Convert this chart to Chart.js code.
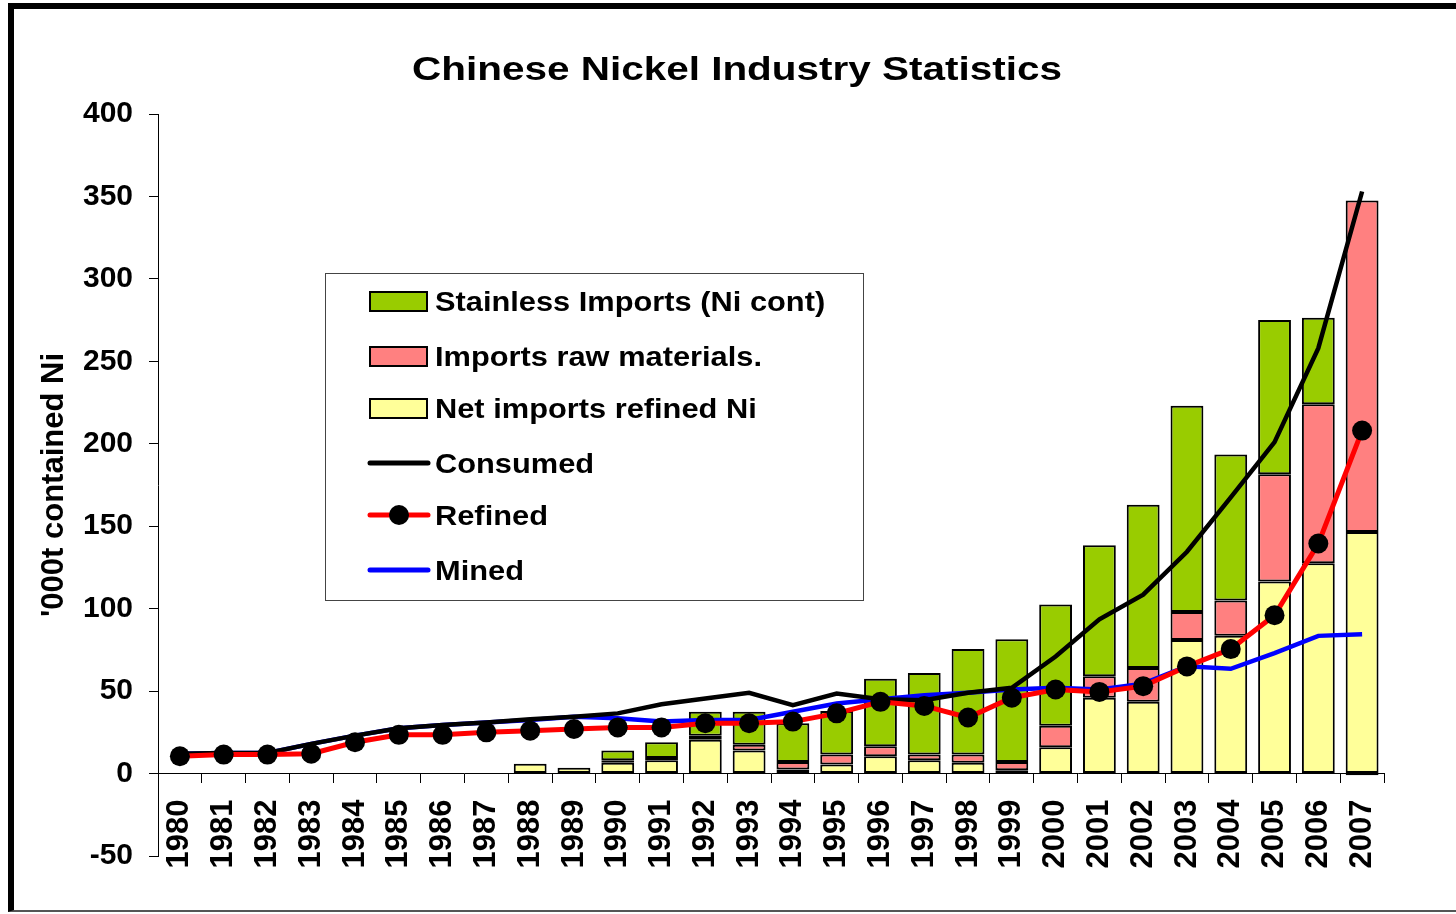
<!DOCTYPE html>
<html>
<head>
<meta charset="utf-8">
<title>Chinese Nickel Industry Statistics</title>
<script src="https://cdn.jsdelivr.net/npm/chart.js@4.4.1/dist/chart.umd.min.js"></script>
<style>
  html, body { margin: 0; padding: 0; background: #fff; overflow: hidden; }
  #wrap { position: relative; width: 1456px; height: 914px; }
  #frame {
    position: absolute; left: 8px; top: 3px; width: 1460px; height: 901px;
    border-left: 6px solid #000; border-top: 6px solid #000; border-bottom: 2px solid #555;
    pointer-events: none;
  }
</style>
</head>
<body>
<div id="wrap">
  <canvas id="nickelChart" width="1456" height="914"></canvas>
  <div id="frame"></div>
</div>
<script>
// --- DATA ---
const years = ['1980','1981','1982','1983','1984','1985','1986','1987','1988','1989',
               '1990','1991','1992','1993','1994','1995','1996','1997','1998','1999',
               '2000','2001','2002','2003','2004','2005','2006','2007'];

// barras apiladas (kt Ni contenido)
const netRefined = [null,null,null,null,null,null,null,null,6,3.5,
                    6.5,8,20.5,14,2.5,5.5,10.5,8,6.5,2,
                    16,46,43.5,81,83.5,116.5,127.5,146.5];
const rawMaterials = [null,null,null,null,null,null,null,null,null,null,
                      1.5,1.5,2.5,3.5,4.5,6,6,3.5,5,5,
                      13,13,20.5,17,21.5,65,96.5,201];
const stainless = [null,null,null,null,null,null,null,null,null,null,
                   6,9.5,14.5,20,23.5,26.5,41,49.5,64,74.5,
                   73.5,79.5,99,125,88.5,93.5,52.5,-1];

// lineas
const consumed = [12,12.5,12.5,18,23,27.5,29.5,31,33,34.5,
                  36.5,42,45.5,49,41.5,48.5,45,44.5,49,52,
                  71,93.5,108.5,134.5,167.5,201,258,353];
const refined = [10.5,11.5,11.5,12,19,23.5,23.5,25,26,27,
                 28,28,30.5,30.5,31.5,36.5,43.5,41,34,46,
                 51,49.5,53,65,75.5,96,139.5,208];
const mined = [12,12.5,12.5,18,23,27.5,29.5,31,32.5,34.5,
               33.5,31.5,32.5,32.5,37.5,42.5,45,47.5,49,51,
               52,51,54.5,65,63.5,73,83.5,84.5];

const yTicks = { min: -50, max: 400, step: 50 };

const chartTitle = 'Chinese Nickel Industry Statistics';
const FONT = '"Liberation Sans", Arial, sans-serif';

// orden de la leyenda (indices de datasets)
const legendOrder = [2, 1, 0, 3, 4, 5];

/**
 * Texto con estiramiento horizontal (el original viene algo ensanchado)
 */
function stretchedText(ctx, text, x, y, sx, align) {
    ctx.save();
    ctx.translate(x, y);
    ctx.scale(sx, 1);
    ctx.textAlign = align;
    ctx.fillText(text, 0, 0);
    ctx.restore();
}

/**
 * Titulo y leyenda dibujados a mano
 */
const boxLegend = {
    id: 'boxLegend',
    afterDraw(chart) {
        const ctx = chart.ctx;
        ctx.save();
        // titulo
        ctx.fillStyle = '#000';
        ctx.textBaseline = 'middle';
        ctx.font = 'bold 34px ' + FONT;
        stretchedText(ctx, chartTitle, 737, 71, 1.19, 'center');

        // leyenda
        const x0 = 325, y0 = 273, w = 538, h = 327;
        const rows = [301, 356, 408, 463, 515, 570];
        ctx.strokeStyle = '#444';
        ctx.lineWidth = 1;
        ctx.strokeRect(x0 + 0.5, y0 + 0.5, w, h);
        ctx.font = 'bold 28px ' + FONT;
        legendOrder.forEach((idx, i) => {
            const ds = chart.data.datasets[idx];
            const cy = rows[i];
            if (ds.type === 'bar') {
                ctx.fillStyle = ds.backgroundColor;
                ctx.fillRect(370, cy - 9, 57, 19);
                ctx.strokeStyle = '#000';
                ctx.lineWidth = 2;
                ctx.strokeRect(370, cy - 9, 57, 19);
            } else {
                ctx.strokeStyle = ds.borderColor;
                ctx.lineWidth = 5;
                ctx.lineCap = 'round';
                ctx.beginPath();
                ctx.moveTo(370, cy);
                ctx.lineTo(428, cy);
                ctx.stroke();
                if (ds.pointRadius > 0) {
                    ctx.fillStyle = ds.pointBackgroundColor;
                    ctx.beginPath();
                    ctx.arc(399, cy, 10, 0, Math.PI * 2);
                    ctx.fill();
                }
            }
            ctx.fillStyle = '#000';
            stretchedText(ctx, ds.label, 435, cy + 2, 1.1, 'left');
        });
        ctx.restore();
    }
};

function barSet(label, data, color) {
    return {
        type: 'bar', label: label, data: data,
        backgroundColor: color, borderColor: '#000', borderWidth: 2,
        borderSkipped: false, stack: 'imp', order: 10,
        barPercentage: 0.75, categoryPercentage: 1
    };
}

function lineSet(label, data, color, width, order) {
    return {
        type: 'line', label: label, data: data,
        borderColor: color, borderWidth: width, tension: 0,
        pointRadius: 0, fill: false, order: order,
        stack: 'line-' + label   // cada linea en su propia pila
    };
}

const refinedSet = lineSet('Refined', refined, '#FF0000', 5, 1);
refinedSet.pointRadius = 10;
refinedSet.pointBackgroundColor = '#000';
refinedSet.pointBorderColor = '#000';
refinedSet.pointBorderWidth = 0;

new Chart(document.getElementById('nickelChart'), {
    data: {
        labels: years,
        datasets: [
            barSet('Net imports refined Ni', netRefined, '#FFFF99'),
            barSet('Imports raw materials.', rawMaterials, '#FF8080'),
            barSet('Stainless Imports (Ni cont)', stainless, '#99CC00'),
            lineSet('Consumed', consumed, '#000000', 4.5, 2),
            refinedSet,
            lineSet('Mined', mined, '#0000FF', 4.5, 3)
        ]
    },
    options: {
        responsive: false,
        animation: false,
        layout: { padding: { top: 114, left: 0, right: 72, bottom: 58 } },
        plugins: {
            legend: { display: false },
            tooltip: { enabled: false },
            title: { display: false }
        },
        scales: {
            x: {
                type: 'category',
                position: { y: 0 },
                offset: true,
                stacked: true,
                grid: { offset: true, drawOnChartArea: false, drawTicks: true, tickLength: 9, color: '#000' },
                border: { display: true, color: '#000', width: 1 },
                ticks: {
                    autoSkip: false, minRotation: 90, maxRotation: 90, padding: 17,
                    color: '#000', font: { family: FONT, size: 31, weight: 'bold' }
                },
                afterFit: (scale) => { scale.height = 0; }
            },
            y: {
                stacked: true,
                min: yTicks.min, max: yTicks.max,
                ticks: {
                    stepSize: yTicks.step, padding: 16,
                    color: '#000', font: { family: FONT, size: 30, weight: 'bold' }
                },
                grid: { drawOnChartArea: false, drawTicks: true, tickLength: 9, color: '#000' },
                border: { display: true, color: '#000', width: 1 },
                title: {
                    display: true, text: "'000t contained Ni", color: '#000',
                    font: { family: FONT, size: 31, weight: 'bold' },
                    padding: { top: 36, bottom: 0 }
                },
                afterFit: (scale) => { scale.width = 158; }
            }
        }
    },
    plugins: [boxLegend]
});
</script>
</body>
</html>
